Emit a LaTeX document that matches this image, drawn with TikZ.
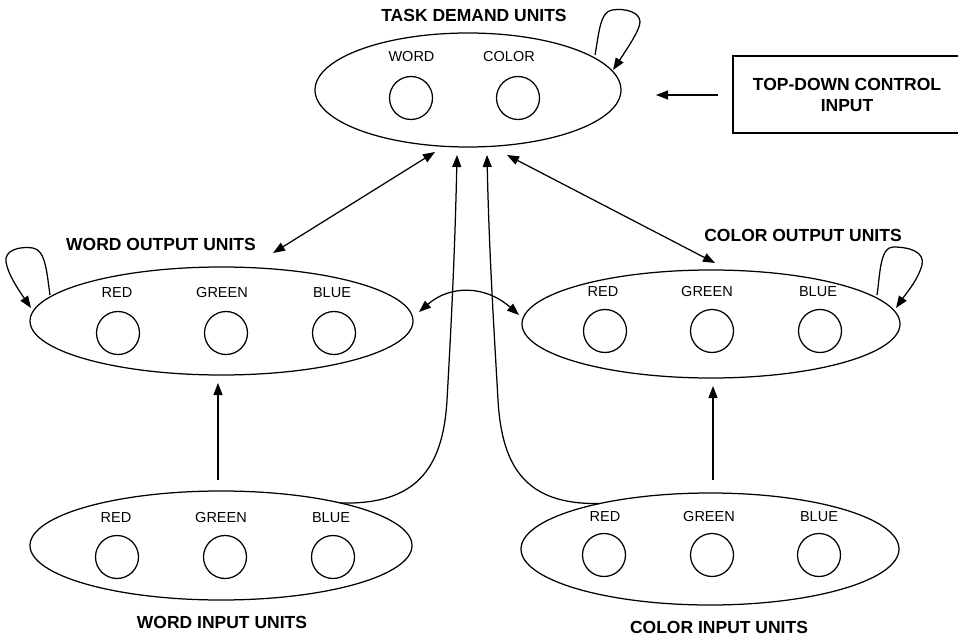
\documentclass[tikz,border=0pt]{standalone}
\usepackage{fontspec}
\setmainfont{Liberation Sans}
\usetikzlibrary{shapes.geometric,arrows.meta,calc}
\begin{document}
\begin{tikzpicture}[x=1pt,y=-1pt, line width=1.25pt,
  group/.style={draw, ellipse, inner sep=0pt},
  unit/.style={draw, circle, minimum size=43pt, inner sep=0pt},
  lab/.style={font=\fontsize{14.5}{17}\selectfont, inner sep=0pt},
  ttl/.style={font=\bfseries\fontsize{17.5}{21}\selectfont, inner sep=0pt, align=center},
  arr/.style={-{Triangle[length=12pt,width=9pt]}},
  darr/.style={{Triangle[length=12pt,width=9pt]}-{Triangle[length=12pt,width=9pt]}}]
\useasboundingbox (0,0) rectangle (958,636);

% groups
\node[group, minimum width=306pt, minimum height=114pt] (task) at (468,90) {};
\node[group, minimum width=383pt, minimum height=108pt] (wout) at (221.5,321) {};
\node[group, minimum width=378pt, minimum height=108pt] (cout) at (711,324) {};
\node[group, minimum width=382pt, minimum height=109pt] (win) at (221,545.5) {};
\node[group, minimum width=378pt, minimum height=112pt] (cin) at (710,549) {};

% titles
\node[ttl] (ttask) at (474,15) {TASK DEMAND UNITS};
\node[ttl] (twout) at (161,244) {WORD OUTPUT UNITS};
\node[ttl] (tcout) at (803,235) {COLOR OUTPUT UNITS};
\node[ttl] (twin) at (222,622) {WORD INPUT UNITS};
\node[ttl] (tcin) at (719,627) {COLOR INPUT UNITS};
\node[draw, line width=1.4pt, minimum width=229pt, minimum height=77pt, inner sep=0pt] (box) at (847.5,94.5) {};
\node[ttl] (boxt) at (847,94.5) {TOP-DOWN CONTROL\\INPUT};

% task units
\node[unit] (tw) at (411,98) {};   \node[lab] (twl) at (411.5,57) {WORD};
\node[unit] (tc) at (518,98) {};   \node[lab] (tcl) at (509,57) {COLOR};

% word output units
\node[unit] (wor) at (118,333) {}; \node[lab] (worl) at (117,293) {RED};
\node[unit] (wog) at (226,333) {}; \node[lab] (wogl) at (222,293) {GREEN};
\node[unit] (wob) at (334,333) {}; \node[lab] (wobl) at (332,293) {BLUE};

% color output units
\node[unit] (cor) at (605,331) {}; \node[lab] (corl) at (603,292) {RED};
\node[unit] (cog) at (712,331) {}; \node[lab] (cogl) at (707,292) {GREEN};
\node[unit] (cob) at (820,331) {}; \node[lab] (cobl) at (818,292) {BLUE};

% word input units
\node[unit] (wir) at (117,557) {}; \node[lab] (wirl) at (116,518) {RED};
\node[unit] (wig) at (225,557) {}; \node[lab] (wigl) at (221,518) {GREEN};
\node[unit] (wib) at (333,557) {}; \node[lab] (wibl) at (331,518) {BLUE};

% color input units
\node[unit] (cir) at (604,555) {}; \node[lab] (cirl) at (605,517) {RED};
\node[unit] (cig) at (712,555) {}; \node[lab] (cigl) at (709,517) {GREEN};
\node[unit] (cib) at (819,555) {}; \node[lab] (cibl) at (819,517) {BLUE};

% connectors
\draw[arr] ($(box.west)+(-14,0.5)$) -- ($(task.center)+(188,5)$);
\draw[darr] ($(task.center)+(-33,62)$) -- ($(wout.center)+(51.5,-68)$);
\draw[darr] ($(task.center)+(39,65)$) -- ($(cout.center)+(4,-61)$);
\draw[arr] ($(win.center)+(-3,-65.5)$) -- ($(wout.center)+(-3.5,62)$);
\draw[arr] ($(cin.center)+(3,-69)$) -- ($(cout.center)+(2,62)$);

\draw[arr] ($(win.center)+(119,-42.5)$) .. controls (415,505) and (443,470) .. (447,400)
   .. controls (451,330) and (455,250) .. ($(task.center)+(-11,65)$);
\draw[arr] ($(cin.center)+(-110,-45.5)$) .. controls (528,505) and (502,470) .. (498,400)
   .. controls (494,330) and (489,250) .. ($(task.center)+(19,65)$);

\draw[darr] ($(wout.center)+(197.5,-9)$) .. controls (450,285) and (485,285) .. ($(cout.center)+(-192,-9)$);

% self loops
\draw[arr] ($(task.center)+(127,-35)$) .. controls (599,33) and (600,12) .. (612,10)
   .. controls (625,8) and (640,12) .. (640,22)
   .. controls (640,30) and (625,52) .. ($(task.center)+(145,-20)$);
\draw[arr] ($(wout.center)+(-171.5,-26)$) .. controls (47,275) and (46,250) .. (33,248)
   .. controls (20,246) and (4,250) .. (6,262)
   .. controls (8,275) and (20,292) .. ($(wout.center)+(-190.5,-13)$);
\draw[arr] ($(cout.center)+(166,-29)$) .. controls (880,275) and (880,247) .. (893,247)
   .. controls (910,247) and (925,252) .. (922,265)
   .. controls (918,280) and (905,295) .. ($(cout.center)+(185,-16)$);
\end{tikzpicture}
\end{document}
